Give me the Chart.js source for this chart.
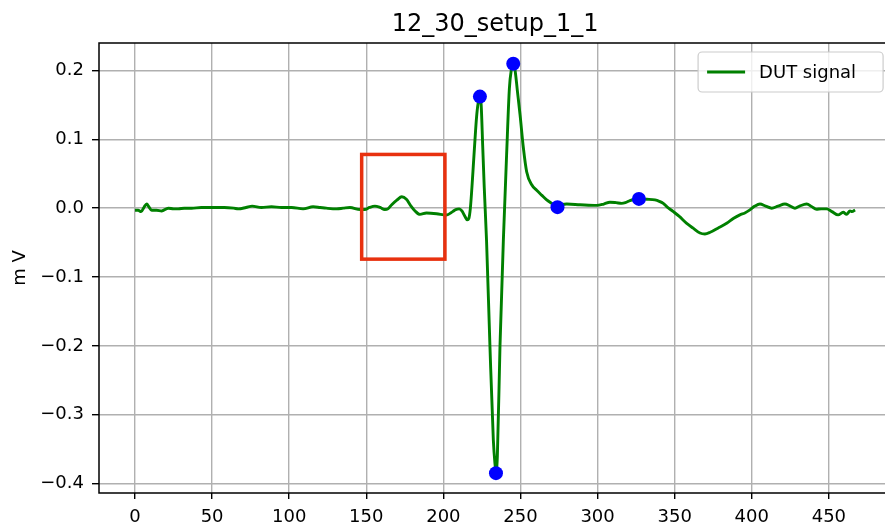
<!DOCTYPE html>
<html lang="en">
<head>
    <meta charset="UTF-8">
    <title>12_30_setup_1_1</title>
    <script src="https://cdn.jsdelivr.net/npm/chart.js"></script>
    <style>
        html, body { margin: 0; padding: 0; background: #fff; overflow: hidden; }
    </style>
</head>
<body>
    <canvas id="ecgChart" width="885" height="527"></canvas>

    <script>
        // DUT signal (sample index / mV)
        const sigX = [0, 2, 4, 6, 7.6, 9, 10.8, 14, 17.3, 21.6, 25, 28, 32, 36.7, 43, 50, 58, 64, 67, 72, 76, 82, 88.5, 95, 101.6,
            109, 115.5, 120, 124, 130.8, 135, 139.4, 146, 149, 152, 155.6, 159, 162, 164, 166.5, 170, 173, 176, 179, 181.6,
            184.8, 189, 195.6, 202, 206, 208, 210.3, 212, 214, 215.5, 216.5, 217.5, 218.5, 219.5, 220.5, 221.5, 222.5, 223.7,
            224.5, 225.5, 226.5, 228, 230.2, 232.4, 233.5, 234.1, 235, 236.7, 238.9, 241, 242.8, 244, 245.3, 246.5, 248, 249.7,
            251.9, 254, 257.3, 260.5, 263.7, 267, 270.2, 274, 277, 280, 288.6, 299.4, 304, 308, 312, 315.6, 318, 321, 324,
            326.8, 332, 337.2, 340, 342.6, 345, 349.1, 353, 357.8, 362, 366.4, 369.6, 373, 378, 383.7, 388, 392.3, 395.5,
            398.8, 402, 405.3, 409, 412.9, 417, 421.5, 425, 428, 431, 435.6, 439, 442, 445, 448.5, 452, 456, 459.3, 461.5,
            463.7, 465, 467];
        const sigY = [-0.003, -0.003, -0.005, 0.002, 0.006, 0.002, -0.003, -0.003, -0.004, 0.0, -0.001, -0.001, 0.0, 0.0, 0.001,
            0.001, 0.001, 0.0, -0.001, 0.001, 0.003, 0.001, 0.002, 0.001, 0.001, -0.001, 0.002, 0.001, 0.0, -0.001, 0.0, 0.001,
            -0.002, -0.002, 0.001, 0.003, 0.001, -0.002, -0.001, 0.005, 0.012, 0.0165, 0.013, 0.003, -0.004, -0.009, -0.007,
            -0.008, -0.010, -0.005, -0.002, -0.001, -0.004, -0.012, -0.017, -0.015, 0.0, 0.03, 0.065, 0.1, 0.132, 0.152, 0.162,
            0.15, 0.09, 0.03, -0.048, -0.201, -0.337, -0.372, -0.383, -0.36, -0.201, -0.046, 0.0775, 0.174, 0.2, 0.209, 0.2,
            0.17, 0.136, 0.087, 0.053, 0.034, 0.026, 0.019, 0.012, 0.007, 0.0015, 0.005, 0.006, 0.005, 0.004, 0.006, 0.0087,
            0.008, 0.007, 0.008, 0.011, 0.013, 0.0135, 0.013, 0.012, 0.01, 0.007, 0.002, -0.005, -0.012, -0.022, -0.029, -0.036,
            -0.0374, -0.035, -0.029, -0.022, -0.015, -0.0097, -0.007, -0.0025, 0.003, 0.006, 0.003, 0.0, 0.003, 0.006, 0.003,
            0.0, 0.003, 0.006, 0.002, -0.0015, -0.001, -0.001, -0.005, -0.0097, -0.006, -0.009, -0.004, -0.005, -0.0025];

        // detected points (blue dots)
        const peakX = [223.7, 234.1, 245.3, 274, 326.8];
        const peakY = [0.162, -0.3847, 0.2096, 0.0015, 0.0135];

        // red marked window
        const boxX = [147, 201];
        const boxY = [-0.074, 0.078];

        const xTicks = [0, 50, 100, 150, 200, 250, 300, 350, 400, 450];
        const yTicks = [-0.4, -0.3, -0.2, -0.1, 0.0, 0.1, 0.2];

        // the original axes end a little past the image edge (x limit ~490),
        // only the part up to ~486 is visible
        const X_MIN = -23.35, X_MAX_FULL = 490.35, X_MAX_SHOWN = 486.4;

        const FONT = '"DejaVu Sans", sans-serif';

        // title, red box, frame and legend, drawn the matplotlib way
        const extras = {
            id: 'extras',
            afterDatasetsDraw(chart) {
                const ctx = chart.ctx;
                const xs = chart.scales.x, ys = chart.scales.y;
                const x0 = xs.getPixelForValue(boxX[0]), x1 = xs.getPixelForValue(boxX[1]);
                const y0 = ys.getPixelForValue(boxY[1]), y1 = ys.getPixelForValue(boxY[0]);
                ctx.save();
                ctx.strokeStyle = '#e8310f';
                ctx.lineWidth = 3.5;
                ctx.lineJoin = 'miter';
                ctx.strokeRect(x0, y0, x1 - x0, y1 - y0);
                ctx.restore();
            },
            afterDraw(chart) {
                const ctx = chart.ctx;
                const a = chart.chartArea;
                const xs = chart.scales.x;
                const axRight = xs.getPixelForValue(X_MAX_FULL);
                ctx.save();
                // spines: left, top, bottom (the right one is off the image)
                ctx.strokeStyle = '#000';
                ctx.lineWidth = 1.5;
                ctx.beginPath();
                ctx.moveTo(a.left, a.top);
                ctx.lineTo(a.left, a.bottom);
                ctx.moveTo(a.left - 0.75, a.top);
                ctx.lineTo(axRight, a.top);
                ctx.moveTo(a.left - 0.75, a.bottom);
                ctx.lineTo(axRight, a.bottom);
                ctx.stroke();

                // title, centred over the full axes
                ctx.fillStyle = '#000';
                ctx.font = '24px ' + FONT;
                ctx.textAlign = 'center';
                ctx.textBaseline = 'alphabetic';
                ctx.fillText('12_30_setup_1_1', (a.left + axRight) / 2, 31);

                // legend, upper right of the full axes
                const lw = 185, lh = 40;
                const lx = axRight - 8 - lw, ly = a.top + 9;
                ctx.beginPath();
                ctx.roundRect(lx, ly, lw, lh, 4);
                ctx.fillStyle = 'rgba(255,255,255,0.8)';
                ctx.fill();
                ctx.strokeStyle = '#cccccc';
                ctx.lineWidth = 1.2;
                ctx.stroke();
                ctx.beginPath();
                ctx.moveTo(lx + 9, ly + lh / 2);
                ctx.lineTo(lx + 47, ly + lh / 2);
                ctx.strokeStyle = '#008000';
                ctx.lineWidth = 2.8;
                ctx.stroke();
                ctx.fillStyle = '#000';
                ctx.font = '18px ' + FONT;
                ctx.textAlign = 'left';
                ctx.textBaseline = 'middle';
                ctx.fillText('DUT signal', lx + 61, ly + lh / 2 + 1);
                ctx.restore();
            }
        };

        const fmtY = v => (v < 0 ? '\u2212' : '') + Math.abs(v).toFixed(1);

        new Chart(document.getElementById('ecgChart'), {
            type: 'line',
            data: {
                datasets: [{
                    label: 'DUT signal',
                    data: sigX.map((x, i) => ({ x: x, y: sigY[i] })),
                    borderColor: '#008000',
                    borderWidth: 2.9,
                    pointRadius: 0,
                    cubicInterpolationMode: 'monotone',
                    fill: false,
                    order: 2
                }, {
                    label: 'peaks',
                    data: peakX.map((x, i) => ({ x: x, y: peakY[i] })),
                    showLine: false,
                    pointRadius: 7,
                    pointBackgroundColor: '#0000ff',
                    pointBorderColor: '#0000ff',
                    pointBorderWidth: 0,
                    clip: false,
                    order: 1
                }]
            },
            options: {
                responsive: false,
                animation: false,
                layout: { autoPadding: false, padding: { top: 43, left: 0, right: 0, bottom: 0 } },
                plugins: {
                    legend: { display: false },
                    title: { display: false },
                    tooltip: { enabled: false }
                },
                scales: {
                    x: {
                        type: 'linear',
                        min: X_MIN,
                        max: X_MAX_SHOWN,
                        afterFit: s => { s.height = 34; s.paddingLeft = 0; s.paddingRight = 0; },
                        afterBuildTicks: s => { s.ticks = xTicks.map(v => ({ value: v })); },
                        border: { display: false },
                        grid: { color: '#b0b0b0', lineWidth: 1.4, drawTicks: true, tickLength: 6, tickColor: '#000', tickWidth: 1.4 },
                        ticks: { color: '#000', font: { family: FONT, size: 18 }, padding: 8, maxRotation: 0, callback: v => String(v) }
                    },
                    y: {
                        type: 'linear',
                        min: -0.4135,
                        max: 0.2398,
                        afterFit: s => { s.width = 99; s.paddingTop = 0; s.paddingBottom = 0; },
                        afterBuildTicks: s => { s.ticks = yTicks.map(v => ({ value: v })); },
                        border: { display: false },
                        grid: { color: '#b0b0b0', lineWidth: 1.4, drawTicks: true, tickLength: 7, tickColor: '#000', tickWidth: 1.4 },
                        ticks: { color: '#000', font: { family: FONT, size: 18 }, padding: 8, callback: fmtY },
                        title: { display: true, text: 'm V', color: '#000', font: { family: FONT, size: 18 }, padding: { top: 10, bottom: 0 } }
                    }
                }
            },
            plugins: [extras]
        });
    </script>
</body>
</html>
